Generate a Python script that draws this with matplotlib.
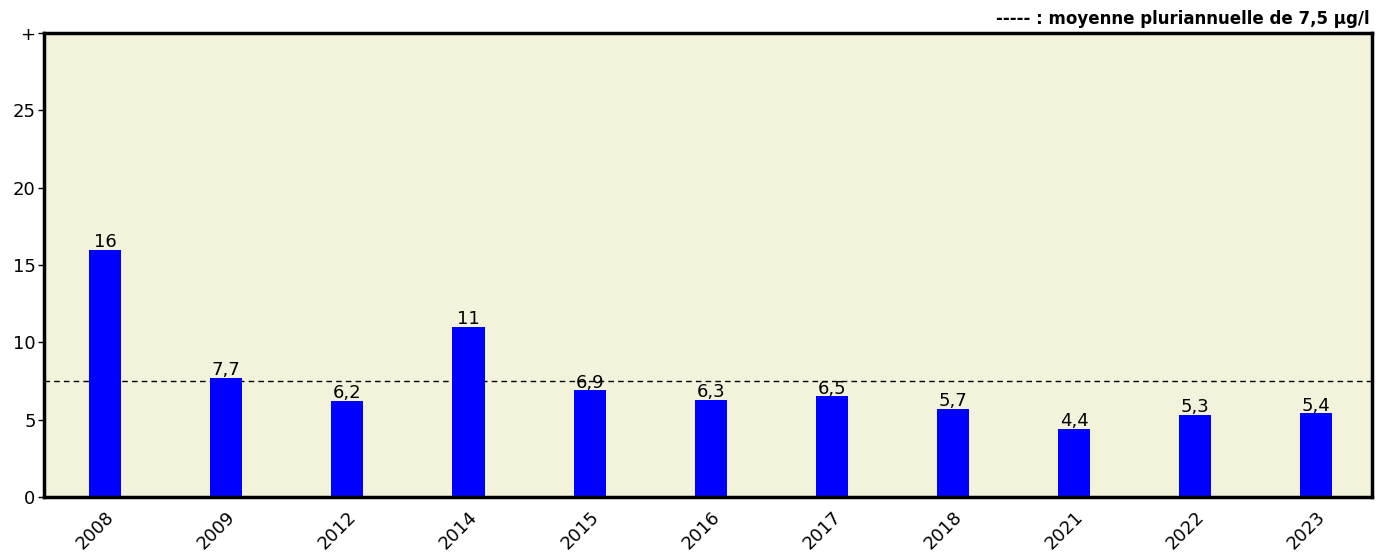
import numpy as np
import matplotlib.pyplot as plt

years = ['2008', '2009', '2012', '2014', '2015', '2016', '2017', '2018', '2021', '2022', '2023']
values = [16, 7.7, 6.2, 11, 6.9, 6.3, 6.5, 5.7, 4.4, 5.3, 5.4]
labels = ['16', '7,7', '6,2', '11', '6,9', '6,3', '6,5', '5,7', '4,4', '5,3', '5,4']
moyenne = 7.5

plt.rcParams['font.family'] = ['DejaVu Sans']

fig = plt.figure(figsize=(13.82, 5.53), dpi=100)
ax = fig.add_axes([0.0318, 0.1013, 0.9610, 0.8390])
ax.set_facecolor('#F3F3DC')

x = np.arange(len(years))
ax.bar(x, values, 0.265, color='#0000FF', zorder=2)
for xi, v, t in zip(x, values, labels):
    ax.annotate(t, (xi, v), xytext=(0, -1), textcoords='offset points',
                ha='center', va='bottom', fontsize=13, zorder=3)

ax.axhline(moyenne, color='black', linestyle=(0, (4, 3)), linewidth=1, zorder=1)

ax.set_xlim(-0.505, 10.46)
ax.set_ylim(0, 30)
ax.set_yticks([0, 5, 10, 15, 20, 25, 30])
ax.set_yticklabels(['0', '5', '10', '15', '20', '25', '+'], fontsize=13)
ax.set_xticks(x)
ax.set_xticklabels(years, rotation=45, ha='right', rotation_mode='anchor', fontsize=13)
ax.tick_params(axis='x', length=0, pad=8)
ax.tick_params(axis='y', length=4, width=1, pad=2)

for s in ax.spines.values():
    s.set_linewidth(2.5)

fig.text(0.991, 0.966, '----- : moyenne pluriannuelle de 7,5 µg/l', ha='right', va='center',
         fontsize=12, fontweight='bold')

fig.savefig('out.png', dpi=100)
